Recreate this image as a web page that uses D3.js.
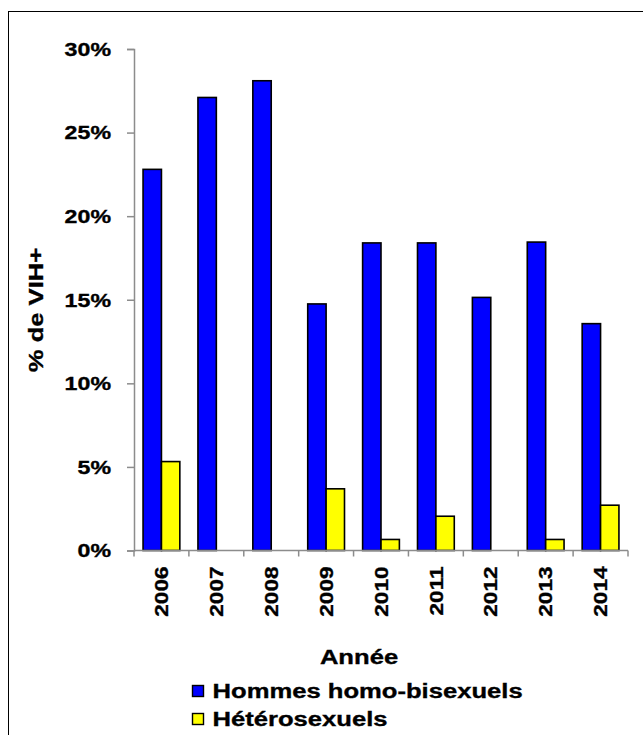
<!DOCTYPE html>
<html>
<head>
<meta charset="utf-8">
<script src="https://cdn.jsdelivr.net/npm/d3@7"></script>
<style>
  html, body { margin: 0; padding: 0; background: #fff; }
  svg { display: block; font-family: "Liberation Sans", Arial, sans-serif; font-weight: bold; }
</style>
</head>
<body>
<svg id="chart" width="643" height="735"></svg>
<script>
// Dépistage VIH : part de résultats positifs par année et par groupe
const years = ["2006", "2007", "2008", "2009", "2010", "2011", "2012", "2013", "2014"];
const seriesNames = ["Hommes homo-bisexuels", "Hétérosexuels"];
const hommesHomoBi = [0.228, 0.271, 0.281, 0.1475, 0.184, 0.184, 0.1514, 0.1845, 0.1357];
const heterosexuels = [0.0532, 0, 0, 0.0369, 0.0066, 0.0205, 0, 0.0066, 0.0271];
const yTicks = [0, 0.05, 0.10, 0.15, 0.20, 0.25, 0.30];
const seriesColors = ["#0000ff", "#ffff00"];

// Les libellés utilisent une police large : étirement horizontal du texte
const STRETCH = 1.22;

const svg = d3.select("#chart");

// Cadre extérieur (ouvert à droite et en bas)
svg.append("rect")
  .attr("x", 8.5).attr("y", 11.5)
  .attr("width", 700).attr("height", 800)
  .attr("fill", "none").attr("stroke", "#000").attr("stroke-width", 1);

const plot = { left: 134, right: 628, top: 49, bottom: 550.5 };

const x = d3.scaleBand()
  .domain(years)
  .range([plot.left, plot.right])
  .paddingInner(0.33)
  .paddingOuter(0.165);

const xSub = d3.scaleBand()
  .domain(seriesNames)
  .range([0, x.bandwidth()]);

const y = d3.scaleLinear()
  .domain([0, 0.30])
  .range([plot.bottom, plot.top]);

const axisColor = "#8c8c8c";

// Texte étiré selon son sens d'écriture, avec un léger contour pour l'épaissir
function label(g, tx, ty, rot, size, anchor, txt) {
  return g.append("text")
    .attr("transform", `translate(${tx},${ty}) rotate(${rot}) scale(${STRETCH},1)`)
    .attr("text-anchor", anchor)
    .attr("font-size", size)
    .attr("fill", "#000")
    .attr("stroke", "#000")
    .attr("stroke-width", 0.35)
    .text(txt);
}

// Axe vertical
const yAxis = d3.axisLeft(y)
  .tickValues(yTicks)
  .tickSize(7)
  .tickFormat("");

const gy = svg.append("g")
  .attr("transform", `translate(${plot.left},0)`)
  .call(yAxis);
gy.select(".domain").attr("stroke", axisColor).attr("stroke-width", 1.5);
gy.selectAll(".tick line").attr("stroke", axisColor).attr("stroke-width", 1.5);

const fmt = d3.format(".0%");
const gyLabels = svg.append("g");
yTicks.forEach(t => {
  label(gyLabels, 111, y(t), 0, 19, "end", fmt(t)).attr("dy", "0.36em");
});

// Barres groupées
const rows = years.map((yr, i) => ({
  year: yr,
  values: [
    { name: seriesNames[0], value: hommesHomoBi[i], color: seriesColors[0] },
    { name: seriesNames[1], value: heterosexuels[i], color: seriesColors[1] }
  ]
}));

const groups = svg.append("g").selectAll("g")
  .data(rows)
  .join("g")
  .attr("transform", d => `translate(${x(d.year)},0)`);

groups.selectAll("rect")
  .data(d => d.values.filter(v => v.value > 0))
  .join("rect")
  .attr("x", d => xSub(d.name))
  .attr("width", xSub.bandwidth())
  .attr("y", d => y(d.value))
  .attr("height", d => y(0) - y(d.value))
  .attr("fill", d => d.color)
  .attr("stroke", "#000")
  .attr("stroke-width", 1.6);

// Axe horizontal : ligne de base et graduations entre les années
const gapHalf = x.step() * x.paddingInner() / 2;
const boundaries = years.map(yr => x(yr) - gapHalf)
  .concat([x(years[years.length - 1]) + x.bandwidth() + gapHalf]);

const gx = svg.append("g");
gx.append("line")
  .attr("x1", plot.left).attr("x2", boundaries[boundaries.length - 1])
  .attr("y1", y(0)).attr("y2", y(0))
  .attr("stroke", axisColor).attr("stroke-width", 1.5);
gx.selectAll("line.tick")
  .data(boundaries)
  .join("line")
  .attr("class", "tick")
  .attr("x1", d => d).attr("x2", d => d)
  .attr("y1", y(0)).attr("y2", y(0) + 6)
  .attr("stroke", axisColor).attr("stroke-width", 1.5);

years.forEach(yr => {
  label(gx, x(yr) + x.bandwidth() / 2, y(0) + 16, -90, 18.5, "end", yr).attr("dy", "0.36em");
});

// Titres des axes
label(svg, 43, 310, -90, 21, "middle", "% de VIH+");
label(svg, 359, 664, 0, 21, "middle", "Année");

// Légende
const legend = svg.append("g").selectAll("g")
  .data(seriesNames)
  .join("g")
  .attr("transform", (d, i) => `translate(192.5,${685.5 + i * 28})`);

legend.append("rect")
  .attr("width", 11).attr("height", 11)
  .attr("fill", (d, i) => seriesColors[i])
  .attr("stroke", "#000").attr("stroke-width", 1.4);

legend.each(function (d) {
  label(d3.select(this), 20, 12, 0, 21, "start", d);
});
</script>
</body>
</html>
